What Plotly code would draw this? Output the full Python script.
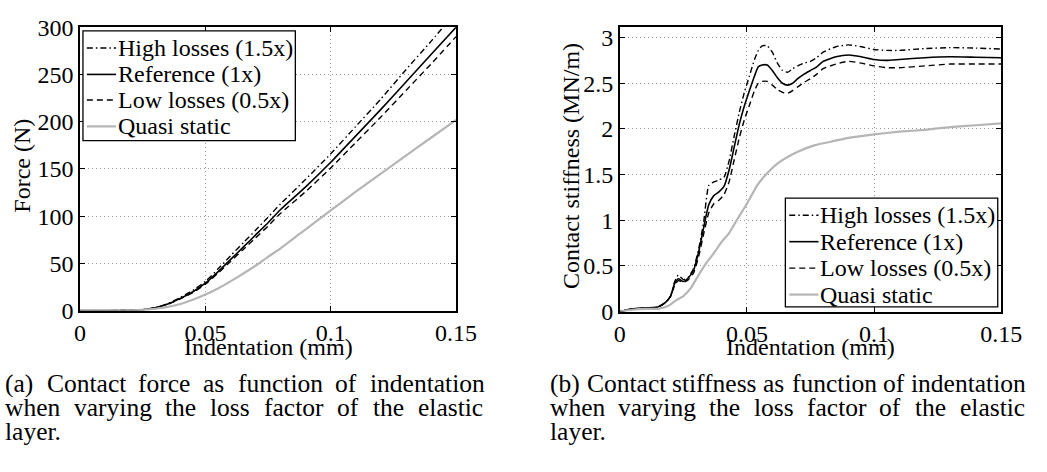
import plotly.graph_objects as go

W, H = 1047, 472
FONT = "Liberation Serif"

# ---------------- Data: contact force (left) ----------------
ind_f = [0, 0.01, 0.02, 0.025, 0.03, 0.035, 0.04, 0.045, 0.05, 0.055, 0.06, 0.065,
         0.07, 0.075, 0.08, 0.09, 0.1, 0.11, 0.12, 0.13, 0.14, 0.15]
force_high = [0, 0, 0.3, 1.1, 3.2, 7.5, 14, 21.5, 31, 44, 58, 71.5, 85, 99, 113, 139,
              166, 195, 224, 255, 285, 316]
force_ref = [0, 0, 0.3, 1, 3, 7, 13, 20, 29, 41, 54, 67, 80, 93, 107, 131, 157, 185,
             213, 242, 271, 300]
force_low = [0, 0, 0.3, 0.9, 2.8, 6.7, 12.5, 19, 28, 39.5, 52, 64.5, 77, 89.5, 103,
             126, 151, 178, 205, 233, 261, 290]
force_qs = [0, 0, 0.2, 0.8, 2, 4, 7, 11.5, 17, 23.5, 31, 39, 47.5, 57, 66, 86, 106,
            126, 145, 164, 183, 202]

# ---------------- Data: contact stiffness (right) ----------------
ind_k = [0, 0.005, 0.01, 0.015, 0.018, 0.02, 0.0215, 0.023, 0.025, 0.027, 0.029,
         0.031, 0.033, 0.035, 0.037, 0.039, 0.041, 0.043, 0.045, 0.047, 0.049, 0.051,
         0.053, 0.0545, 0.056, 0.058, 0.060, 0.062, 0.064, 0.066, 0.068, 0.07, 0.0725,
         0.075, 0.0775, 0.08, 0.085, 0.09, 0.095, 0.1, 0.105, 0.11, 0.12, 0.13, 0.14,
         0.15]
stiff_high = [0, 0.03, 0.04, 0.05, 0.1, 0.17, 0.32, 0.40, 0.35, 0.38, 0.47, 0.68,
              0.98, 1.38, 1.42, 1.44, 1.47, 1.65, 1.92, 2.18, 2.40, 2.58, 2.76, 2.86,
              2.91, 2.91, 2.84, 2.72, 2.64, 2.62, 2.66, 2.69, 2.72, 2.74, 2.78, 2.84,
              2.90, 2.92, 2.90, 2.87, 2.86, 2.86, 2.88, 2.89, 2.885, 2.875]
stiff_ref = [0, 0.03, 0.04, 0.05, 0.1, 0.17, 0.30, 0.36, 0.33, 0.37, 0.45, 0.65,
             0.92, 1.17, 1.27, 1.31, 1.37, 1.55, 1.80, 2.05, 2.25, 2.42, 2.58, 2.68,
             2.70, 2.70, 2.64, 2.56, 2.50, 2.48, 2.50, 2.55, 2.60, 2.64, 2.68, 2.74,
             2.79, 2.81, 2.79, 2.76, 2.75, 2.76, 2.78, 2.79, 2.785, 2.78]
stiff_low = [0, 0.03, 0.04, 0.05, 0.1, 0.17, 0.28, 0.34, 0.32, 0.35, 0.42, 0.60,
             0.85, 1.08, 1.18, 1.22, 1.28, 1.42, 1.66, 1.90, 2.10, 2.26, 2.42, 2.50,
             2.52, 2.52, 2.48, 2.43, 2.40, 2.39, 2.42, 2.46, 2.51, 2.55, 2.60, 2.66,
             2.71, 2.74, 2.72, 2.69, 2.67, 2.67, 2.69, 2.71, 2.71, 2.71]
ind_kqs = [0, 0.005, 0.01, 0.015, 0.019, 0.022, 0.025, 0.028, 0.031, 0.034, 0.037,
           0.04, 0.043, 0.046, 0.05, 0.054, 0.0575, 0.062, 0.0665, 0.07, 0.0765,
           0.083, 0.0895, 0.1, 0.11, 0.12, 0.13, 0.14, 0.15]
stiff_qs = [0, 0.02, 0.03, 0.03, 0.06, 0.12, 0.17, 0.26, 0.40, 0.53, 0.64, 0.76,
            0.86, 1.0, 1.18, 1.38, 1.50, 1.62, 1.70, 1.75, 1.82, 1.86, 1.90, 1.94,
            1.97, 1.99, 2.02, 2.04, 2.06]

names = ["High losses (1.5x)", "Reference (1x)", "Low losses (0.5x)", "Quasi static"]
styles = [dict(color="black", width=1.4, dash="6px,3px,1.5px,3px"),
          dict(color="black", width=1.6),
          dict(color="black", width=1.4, dash="6px,4px"),
          dict(color="#b5b5b5", width=2.2)]

# layout in pixels
PX = dict(ax1=(76, 462), ay=(15, 315), ax2=(630, 1021.5), ay2=(15, 316))


def dx(a, b):
    return [a / W, b / W]


def dy(top, bottom):
    return [(H - bottom) / H, (H - top) / H]


def px_x(v):
    return v / W


def px_y(v):
    return (H - v) / H


fig = go.Figure()
left_y = [force_high, force_ref, force_low, force_qs]
for n, st, yv in zip(names, styles, left_y):
    fig.add_trace(go.Scatter(x=ind_f, y=yv, name=n, mode="lines",
                             line=dict(st, shape="spline", smoothing=0.5),
                             xaxis="x", yaxis="y", showlegend=False))
right_x = [ind_k, ind_k, ind_k, ind_kqs]
right_y = [stiff_high, stiff_ref, stiff_low, stiff_qs]
for n, st, xv, yv in zip(names, styles, right_x, right_y):
    fig.add_trace(go.Scatter(x=xv, y=yv, name=n, mode="lines",
                             line=dict(st, shape="spline", smoothing=0.5),
                             xaxis="x2", yaxis="y2", showlegend=False))

tickfont = dict(family=FONT, size=24, color="black")
axcommon = dict(showline=True, linecolor="black", linewidth=1.5, mirror="ticks",
                ticks="inside", ticklen=5, tickcolor="black", tickwidth=1,
                showgrid=True, gridcolor="#9a9a9a", gridwidth=1, griddash="1px,3px",
                zeroline=False, tickfont=tickfont)

fig.update_layout(
    width=W, height=H, margin=dict(l=0, r=0, t=0, b=0),
    paper_bgcolor="white", plot_bgcolor="white",
    font=dict(family=FONT, color="black"),
    xaxis=dict(axcommon, domain=dx(*PX["ax1"]), range=[0, 0.15], tickvals=[0, 0.05, 0.1, 0.15],
               ticktext=["0", "0.05", "0.1", "0.15"], anchor="y"),
    yaxis=dict(axcommon, domain=dy(*PX["ay"]), range=[0, 300], tickvals=[0, 50, 100, 150, 200, 250, 300],
               anchor="x"),
    xaxis2=dict(axcommon, domain=dx(*PX["ax2"]), range=[0, 0.15], tickvals=[0, 0.05, 0.1, 0.15],
                ticktext=["0", "0.05", "0.1", "0.15"], anchor="y2"),
    yaxis2=dict(axcommon, domain=dy(*PX["ay2"]), range=[0, 3.114],
                tickvals=[0, 0.5, 1, 1.5, 2, 2.5, 3], ticktext=["0", "0.5", "1", "1.5", "2", "2.5", "3"],
                anchor="x2"),
    showlegend=False,
)

ann = []
shapes = []
titlefont = dict(family=FONT, size=24, color="black")
ann.append(dict(text="Indentation (mm)", x=px_x(269), y=px_y(353), xref="paper", yref="paper",
                showarrow=False, font=titlefont, xanchor="center", yanchor="middle"))
ann.append(dict(text="Indentation (mm)", x=px_x(826), y=px_y(353), xref="paper", yref="paper",
                showarrow=False, font=titlefont, xanchor="center", yanchor="middle"))
ann.append(dict(text="Force (N)", x=px_x(16), y=px_y(162), xref="paper", yref="paper",
                showarrow=False, font=titlefont, xanchor="center", yanchor="middle", textangle=-90))
ann.append(dict(text="Contact stiffness (MN/m)", x=px_x(580), y=px_y(162), xref="paper", yref="paper",
                showarrow=False, font=titlefont, xanchor="center", yanchor="middle", textangle=-90))


# ---------------- Legends (MATLAB-style boxed keys) ----------------
def add_legend(x0, y0, x1, y1, rows):
    shapes.append(dict(type="rect", xref="paper", yref="paper",
                       x0=px_x(x0), x1=px_x(x1), y0=px_y(y1), y1=px_y(y0),
                       line=dict(color="black", width=1.3), fillcolor="white", layer="above"))
    for n, st, yc in zip(names, styles, rows):
        shapes.append(dict(type="line", xref="paper", yref="paper",
                           x0=px_x(x0 + 4), x1=px_x(x0 + 34), y0=px_y(yc), y1=px_y(yc),
                           line=dict(color=st["color"], width=st["width"], dash=st.get("dash", "solid")),
                           layer="above"))
        ann.append(dict(text=n, x=px_x(x0 + 35), y=px_y(yc), xref="paper", yref="paper",
                        showarrow=False, xanchor="left", yanchor="middle", borderpad=0,
                        font=dict(family=FONT, size=24, color="black")))


add_legend(79, 19, 297, 135, [37, 65, 92, 120])
add_legend(800, 196, 1018, 311, [214, 242, 270, 298])

# ---------------- Captions (justified like the source document) ----------------
cap_a = ["(a) Contact force as function of indentation",
         "when varying the loss factor of the elastic",
         "layer."]
cap_b = ["(b) Contact stiffness as function of indentation",
         "when varying the loss factor of the elastic",
         "layer."]

TNR = {" ": 250, "(": 333, ")": 333, ".": 250, "a": 444, "b": 500, "c": 444, "d": 500,
       "e": 444, "f": 333, "g": 500, "h": 500, "i": 278, "l": 278, "n": 500, "o": 500,
       "r": 333, "s": 389, "t": 278, "u": 500, "v": 500, "w": 722, "x": 500, "y": 500,
       "C": 667, "k": 500, "m": 778, "p": 500}
CAP_SIZE = 25.5


def wwidth(word):
    return sum(TNR.get(c, 500) for c in word) / 1000.0 * CAP_SIZE


def add_caption(lines, x0, x1, ys):
    for k, (line, yc) in enumerate(zip(lines, ys)):
        words = line.split(" ")
        if k == len(lines) - 1 or len(words) == 1:
            ann.append(dict(text=line, x=px_x(x0), y=px_y(yc), xref="paper", yref="paper",
                            showarrow=False, xanchor="left", yanchor="middle", borderpad=0,
                            font=dict(family=FONT, size=CAP_SIZE, color="black")))
            continue
        total = sum(wwidth(w) for w in words)
        gap = (x1 - x0 - total) / (len(words) - 1)
        xc = x0
        for w in words:
            ann.append(dict(text=w, x=px_x(xc), y=px_y(yc), xref="paper", yref="paper",
                            showarrow=False, xanchor="left", yanchor="middle", borderpad=0,
                            font=dict(family=FONT, size=CAP_SIZE, color="black")))
            xc += wwidth(w) + gap


add_caption(cap_a, -2, 487, [392, 418, 443])
add_caption(cap_b, 557, 1043, [392, 418, 443])

fig.update_layout(annotations=ann, shapes=shapes)
fig.write_html("out.html")
